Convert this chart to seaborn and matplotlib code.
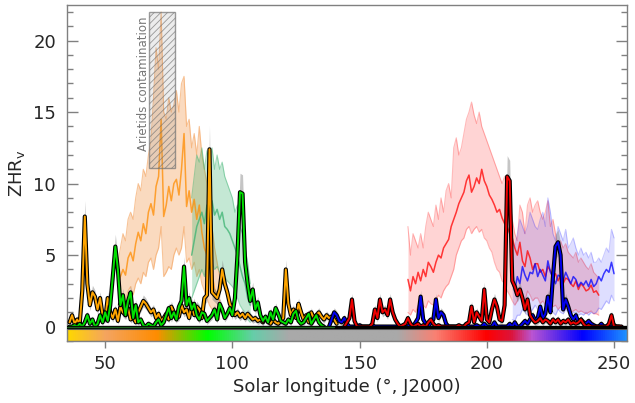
import numpy as np
import seaborn as sns
from matplotlib import pyplot as plt
from matplotlib.colors import LinearSegmentedColormap
from matplotlib.patches import Rectangle
from matplotlib.ticker import MultipleLocator
import matplotlib.patheffects as pe

# ---- bands (mean ZHR with uncertainty) ----
orange_lon = np.arange(55, 96)
orange_mid = [3.0, 3.5, 4.0, 3.6, 4.8, 5.2, 4.6, 5.8, 6.6, 6.0,
              7.2, 6.5, 8.0, 8.6, 7.8, 9.8, 10.5, 14.5, 7.7, 8.5,
              9.8, 8.8, 10.0, 10.3, 9.2, 11.0, 13.5, 8.4, 9.5, 8.0,
              8.9, 7.5, 8.5, 6.6, 5.5, 5.0, 4.2, 3.8, 2.6, 2.2, 1.8]
orange_hi = [4.5, 5.5, 6.5, 6.0, 7.5, 8.0, 7.5, 9.0, 10.0, 9.5,
             11.0, 10.5, 12.0, 13.0, 16.0, 19.5, 18.0, 22.0, 15.0, 14.5,
             16.0, 15.0, 15.5, 16.5, 15.0, 17.0, 17.5, 14.0, 14.5, 12.5,
             13.5, 12.0, 14.0, 12.0, 11.0, 10.0, 8.0, 7.0, 5.5, 4.5, 3.5]
orange_lo = [1.5, 1.8, 2.0, 1.8, 2.5, 2.8, 2.2, 3.0, 3.4, 3.0,
             3.8, 3.5, 4.5, 4.8, 4.0, 5.0, 5.5, 7.0, 3.5, 3.8,
             4.2, 4.0, 5.0, 5.5, 5.0, 5.5, 7.0, 4.5, 4.8, 4.0,
             4.5, 3.5, 4.0, 3.0, 2.5, 2.0, 1.5, 1.2, 1.0, 0.8, 0.5]

green_lon = np.arange(84, 108)
green_mid = [5.0, 6.0, 7.0, 7.5, 8.0, 7.2, 8.5, 8.0, 8.8, 7.8,
             8.2, 7.5, 8.0, 7.0, 6.8, 6.5, 6.0, 5.5, 5.0, 4.2,
             3.5, 3.0, 2.0, 1.5]
green_hi = [9.0, 10.5, 12.0, 11.5, 12.5, 11.0, 12.3, 11.5, 12.5, 11.0,
            12.0, 11.0, 11.5, 10.5, 10.0, 9.5, 9.0, 8.0, 8.5, 7.0,
            6.5, 5.5, 4.5, 3.0]
green_lo = [2.0, 2.5, 3.0, 3.5, 4.0, 3.5, 4.5, 4.0, 4.5, 4.0,
            4.2, 3.8, 4.0, 3.5, 3.2, 3.0, 2.8, 2.5, 2.0, 1.5,
            1.2, 1.0, 0.5, 0.3]

red_lon = np.arange(169, 245)
red_mid = [3.3, 2.5, 3.5, 3.0, 3.8, 3.2, 4.0, 3.5, 4.5, 4.2,
           3.8, 4.5, 5.0, 4.8, 5.5, 5.8, 6.1, 7.0, 7.5, 8.0,
           8.6, 9.0, 9.4, 10.2, 10.6, 9.4, 9.8, 10.4, 10.0, 11.0,
           10.2, 9.8, 9.2, 8.9, 8.5, 8.0, 8.2, 7.6, 7.2, 7.0,
           6.5, 6.2, 5.5, 5.0, 5.9, 4.6, 4.2, 5.3, 4.8, 4.0,
           4.4, 4.4, 3.8, 4.0, 3.5, 4.2, 3.9, 3.5, 3.7, 3.2,
           3.6, 3.0, 3.4, 3.3, 3.0, 2.8, 3.2, 2.6, 3.0, 2.8,
           2.5, 2.6, 2.9, 2.4, 2.5, 2.2]
red_hi = [7.0, 5.0, 6.5, 6.0, 5.5, 6.5, 5.5, 7.0, 8.0, 7.5,
          7.0, 8.5, 7.5, 9.0, 8.0, 9.5, 10.0, 9.0, 12.5, 13.2,
          12.0, 12.5, 13.5, 14.5, 15.0, 15.7, 14.8, 14.2, 15.0, 14.0,
          13.5, 13.0, 12.5, 12.0, 11.5, 11.0, 10.5, 10.0, 10.5, 9.5,
          9.0, 7.5, 6.5, 6.0, 8.5, 8.0, 6.5, 8.5, 9.0, 8.0,
          8.5, 8.8, 8.0, 7.5, 8.0, 8.8, 7.0, 7.5, 6.5, 5.5,
          6.0, 5.5, 5.8, 5.2, 5.0, 4.8, 5.2, 4.5, 4.8, 4.5,
          4.2, 4.0, 4.4, 3.8, 3.6, 3.4]
red_lo = [1.0, 0.8, 1.2, 1.0, 1.5, 1.2, 1.5, 1.3, 1.8, 1.6,
          1.5, 1.8, 2.2, 2.0, 2.5, 2.8, 3.0, 3.5, 4.0, 5.0,
          5.5, 6.0, 6.2, 6.8, 7.0, 6.5, 6.8, 7.0, 6.6, 6.8,
          6.2, 6.0, 5.5, 5.2, 4.5, 4.0, 3.8, 3.2, 3.0, 2.5,
          2.2, 1.8, 1.5, 1.8, 2.5, 2.0, 1.8, 2.5, 2.2, 1.8,
          2.0, 2.0, 1.6, 1.8, 1.5, 1.8, 1.6, 1.4, 1.5, 1.2,
          1.4, 1.2, 1.3, 1.2, 1.0, 1.1, 1.2, 1.0, 1.1, 1.0,
          0.9, 1.0, 1.1, 0.9, 0.9, 0.8]

blue_lon = np.arange(210, 251)
blue_mid = [3.1, 2.5, 3.5, 3.0, 4.2, 3.6, 3.2, 3.8, 3.7, 4.4,
            3.5, 4.0, 3.6, 3.2, 4.6, 3.8, 3.4, 3.0, 3.6, 3.5,
            3.2, 3.8, 3.4, 3.0, 3.5, 3.3, 2.8, 3.1, 2.9, 3.2,
            2.8, 3.3, 2.8, 3.0, 3.5, 3.2, 3.7, 4.0, 3.8, 4.5, 3.7]
blue_hi = [6.0, 5.5, 6.5, 7.5, 7.0, 6.5, 7.0, 8.0, 7.5, 7.0,
           6.8, 7.5, 8.0, 7.0, 9.0, 8.0, 6.5, 6.0, 7.0, 6.5,
           6.0, 6.8, 5.5, 5.8, 6.2, 5.5, 5.0, 5.5, 5.0, 5.2,
           4.8, 5.2, 4.5, 4.5, 4.8, 4.5, 5.0, 5.5, 5.2, 6.8, 6.2]
blue_lo = [0.5, 0.4, 0.8, 0.8, 1.2, 1.0, 0.8, 1.0, 1.2, 1.5,
           1.2, 1.3, 1.0, 0.8, 1.5, 1.2, 1.0, 0.8, 1.2, 1.0,
           0.9, 1.2, 1.0, 0.8, 1.0, 1.0, 0.8, 0.9, 0.8, 1.0,
           0.8, 1.0, 0.9, 1.0, 1.3, 1.2, 1.5, 1.8, 1.6, 2.2, 1.8]

# ---- single-camera ZHR curves (black outlined) ----
orng_lon = np.arange(36, 142)
orng_zhr = [0.3, 0.8, 0.2, 0.5, 0.2, 2.5, 7.7, 3.0, 1.5, 2.4,
            2.1, 1.2, 2.0, 0.8, 0.5, 2.0, 1.0, 0.6, 1.2, 0.4,
            1.4, 1.0, 0.8, 1.3, 0.5, 0.7, 0.3, 1.0, 1.4, 1.8,
            1.6, 1.3, 1.0, 1.2, 0.6, 0.9, 0.4, 0.6, 0.9, 0.5,
            1.4, 1.0, 0.6, 0.7, 1.5, 1.0, 1.2, 0.6, 1.6, 0.8,
            1.4, 1.2, 0.6, 2.0, 2.2, 12.4, 2.4, 2.2, 2.0, 2.6,
            4.0, 3.0, 2.4, 1.6, 1.2, 0.8, 1.0, 0.7, 0.9, 0.6,
            0.9, 0.7, 0.5, 0.6, 0.4, 0.5, 0.3, 0.6, 0.4, 0.2,
            0.5, 0.3, 0.2, 0.4, 0.6, 4.0, 1.6, 0.8, 1.2, 0.6,
            1.6, 1.0, 0.5, 0.8, 0.3, 1.0, 0.6, 0.8, 1.0, 0.7,
            0.5, 0.8, 0.6, 0.7, 0.5, 0.2]

grn_lon = np.arange(36, 137)
grn_zhr = [0.0, 0.0, 0.1, 0.0, 0.2, 0.0, 0.3, 0.8, 0.2, 0.5,
           0.0, 0.2, 0.8, 0.3, 1.0, 0.4, 1.5, 3.5, 5.6, 4.0,
           1.5, 2.2, 0.8, 1.8, 2.4, 0.6, 1.5, 0.3, 0.5, 0.1,
           0.0, 0.2, 0.1, 0.0, 0.3, 0.5, 0.1, 0.3, 0.8, 1.3,
           0.6, 1.0, 0.5, 1.4, 1.8, 4.2, 1.5, 2.0, 1.2, 1.6,
           0.8, 0.5, 1.0, 0.9, 0.4, 0.6, 0.8, 1.2, 0.5, 1.6,
           1.2, 0.6, 0.9, 1.3, 0.8, 2.0, 5.0, 9.4, 9.3, 4.5,
           3.0, 1.8, 2.6, 1.2, 1.7, 0.8, 0.4, 0.7, 0.3, 1.0,
           0.5, 1.3, 0.9, 0.4, 0.3, 0.2, 0.5, 0.3, 0.9, 1.1,
           0.4, 0.2, 0.3, 0.6, 0.9, 0.2, 0.5, 0.8, 0.3, 0.1,
           0.0]

blu_lon = np.arange(138, 253)
blu_zhr = [0.0, 0.5, 1.0, 0.8, 0.4, 0.3, 0.6, 0.2, 0.0, 0.0,
           0.0, 0.0, 0.1, 0.0, 0.0, 0.0, 0.0, 0.1, 0.0, 0.0,
           0.0, 0.0, 0.0, 0.0, 0.0, 0.0, 0.0, 0.0, 0.0, 0.0,
           0.0, 0.0, 0.2, 0.0, 0.3, 0.6, 2.1, 0.5, 0.2, 0.0,
           0.3, 0.5, 1.9, 0.6, 1.0, 0.8, 0.2, 0.0, 0.0, 0.0,
           0.0, 0.0, 0.0, 0.0, 0.2, 0.0, 0.0, 0.0, 0.1, 0.0,
           0.0, 0.2, 0.0, 0.0, 0.0, 0.3, 0.0, 0.0, 0.0, 0.0,
           0.0, 0.2, 0.0, 0.3, 0.0, 0.0, 0.2, 0.4, 0.2, 0.5,
           0.8, 0.4, 0.6, 1.4, 0.6, 0.9, 2.1, 1.0, 3.5, 5.6,
           5.9, 5.0, 1.2, 1.9, 1.4, 0.8, 0.5, 0.8, 0.3, 0.5,
           0.3, 0.2, 0.4, 0.2, 0.1, 0.0, 0.0, 0.2, 0.0, 0.0,
           0.0, 0.0, 0.1, 0.0, 0.0]

rd_lon = np.arange(144, 254)
rd_zhr = [0.0, 0.3, 0.6, 1.9, 0.4, 0.0, 0.0, 0.0, 0.0, 0.0,
          0.0, 0.2, 1.2, 0.6, 1.9, 1.0, 1.2, 0.8, 1.9, 1.0,
          0.5, 0.2, 0.0, 0.1, 0.2, 0.6, 0.2, 0.0, 0.1, 0.2,
          0.0, 0.1, 0.0, 0.3, 0.5, 0.2, 0.0, 0.1, 0.0, 0.0,
          0.0, 0.0, 0.0, 0.0, 0.0, 0.1, 0.0, 0.0, 0.2, 0.3,
          1.4, 0.3, 1.0, 0.7, 0.4, 2.6, 0.5, 0.3, 1.2, 1.9,
          1.4, 0.5, 0.4, 1.5, 10.5, 10.2, 3.2, 2.8, 2.2, 2.6,
          2.0, 1.2, 1.9, 0.8, 0.5, 0.3, 0.4, 0.6, 0.3, 0.5,
          0.4, 0.2, 0.5, 0.3, 0.5, 0.2, 0.4, 0.3, 0.5, 0.2,
          0.3, 0.2, 0.3, 0.5, 0.2, 0.0, 0.1, 0.0, 0.0, 0.0,
          0.0, 0.0, 0.0, 0.0, 0.2, 0.8, 0.0, 0.0, 0.0, 0.0]

# colour scale along the solar longitude axis
cbar_lon = [35, 50, 70, 90, 108, 122, 165, 180, 200, 210, 218, 238, 255]
cbar_col = ["#ffd700", "#f4a460", "#ff8c00", "#00ff00", "#66cdaa", "#a9a9a9",
            "#a9a9a9", "#fa8072", "#ff0000", "#dc143c", "#ba55d3", "#0000ff",
            "#1e90ff"]

sns.set_style("ticks")
plt.rcParams['font.family'] = ['DejaVu Sans']
plt.rcParams['hatch.linewidth'] = 0.6

fig, ax = plt.subplots(figsize=(6.35, 4.03), dpi=100)
fig.subplots_adjust(left=0.1055, right=0.987, top=0.988, bottom=0.154)

xmin, xmax, ymin, ymax = 35, 255, -1.0, 22.5

# colour bar at the bottom of the axes
cmap = LinearSegmentedColormap.from_list(
    "lon", [((l - xmin) / (xmax - xmin), c) for l, c in zip(cbar_lon, cbar_col)])
grad = np.linspace(0, 1, 512)[None, :]
ax.imshow(grad, extent=[xmin, xmax, ymin, -0.15], aspect="auto", cmap=cmap, zorder=1)
ax.add_patch(Rectangle((xmin, ymin), xmax - xmin, 0.85, fill=False,
                       edgecolor="#666666", lw=0.8, zorder=1.5))

# shaded bands
bands = [(orange_lon, orange_mid, orange_lo, orange_hi, "sandybrown", "darkorange", 0.4),
         (green_lon, green_mid, green_lo, green_hi, "mediumseagreen", "mediumseagreen", 0.3),
         (red_lon, red_mid, red_lo, red_hi, "red", "red", 0.17),
         (blue_lon, blue_mid, blue_lo, blue_hi, "blue", "blue", 0.13)]
for lon, mid, lo, hi, fc, lc, a in bands:
    ax.fill_between(lon, lo, hi, color=fc, alpha=a, lw=0, zorder=2)
    ax.plot(lon, lo, color=fc, alpha=min(1, a * 1.6), lw=0.8, zorder=2)
    ax.plot(lon, hi, color=fc, alpha=min(1, a * 1.6), lw=0.8, zorder=2)
    sns.lineplot(x=lon, y=mid, ax=ax, color=lc, lw=1.1, alpha=0.75, zorder=2.5)

# black outlined curves with grey uncertainty
curves = [(orng_lon, orng_zhr, "#ffa500"),
          (grn_lon, grn_zhr, "#00e000"),
          (blu_lon, blu_zhr, "#0000ee"),
          (rd_lon, rd_zhr, "#ee0000")]
for lon, z, col in curves:
    z = np.array(z)
    ax.fill_between(lon, np.clip(z * 0.88 - 0.2, 0, None), z * 1.12 + 0.2,
                    color="gray", alpha=0.45, lw=0, zorder=3)
for lon, z, col in curves:
    sns.lineplot(x=lon, y=z, ax=ax, color=col, lw=1.4, zorder=4,
                 path_effects=[pe.Stroke(linewidth=3.0, foreground="black"), pe.Normal()])

# zero line
ax.axhline(0, color="black", lw=2.4, zorder=5)
ax.plot([xmin, 140], [0, 0], color="#1f5f1f", lw=1.0, zorder=5.1)

# Arietids contamination box
ax.add_patch(Rectangle((67.1, 11.1), 10.2, 10.9, facecolor=(0.5, 0.5, 0.5, 0.15),
                       edgecolor=(0.45, 0.45, 0.45, 0.7), hatch="/////", lw=1.0, zorder=6))
ax.text(65.2, 17.0, "Arietids contamination", rotation=90, ha="center", va="center",
        fontsize=8.5, color="#777777", zorder=6)

ax.set_xlim(xmin, xmax)
ax.set_ylim(ymin, ymax)
ax.set_xticks([50, 100, 150, 200, 250])
ax.set_yticks([0, 5, 10, 15, 20])
ax.yaxis.set_minor_locator(MultipleLocator(1))
ax.tick_params(axis="x", direction="out", length=5, width=1, color="gray",
               labelsize=13, pad=5)
ax.tick_params(axis="y", which="major", direction="in", length=8, width=1,
               color="gray", labelsize=13, pad=8, left=True, right=True)
ax.tick_params(axis="y", which="minor", direction="in", length=4, width=1,
               color="gray", left=True, right=True)
for s in ax.spines.values():
    s.set_visible(True)
    s.set_color("gray")
    s.set_linewidth(1.0)

ax.set_xlabel("Solar longitude (°, J2000)", fontsize=13, labelpad=4)
ax.set_ylabel("ZHR$_\\mathrm{v}$", fontsize=13, labelpad=4)

fig.savefig("out.png", dpi=100)
